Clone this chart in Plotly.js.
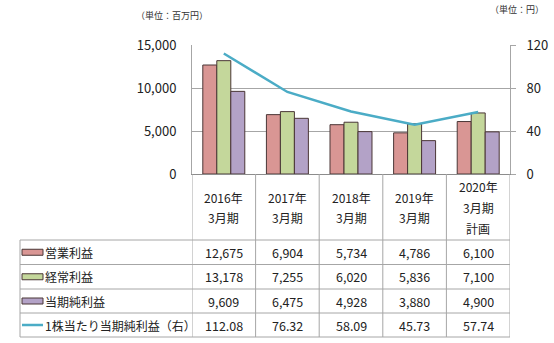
<!DOCTYPE html>
<html>
<head>
<meta charset="utf-8">
<script src="https://cdn.plot.ly/plotly-3.0.1.min.js"></script>
<style>html,body{margin:0;padding:0;background:#fff;}#chart{width:554px;height:343px;}</style>
</head>
<body>
<div id="chart"></div>
<script>
// ---- data ----
const headerLines = [['2016年','3月期'],['2017年','3月期'],['2018年','3月期'],['2019年','3月期'],['2020年','3月期','計画']];
const categories = headerLines.map(l => l.join(''));
const seriesNames = ['営業利益','経常利益','当期純利益','1株当たり当期純利益（右）'];
const operatingProfit = [12675, 6904, 5734, 4786, 6100];
const ordinaryProfit  = [13178, 7255, 6020, 5836, 7100];
const netIncome       = [9609, 6475, 4928, 3880, 4900];
const eps             = [112.08, 76.32, 58.09, 45.73, 57.74];
const leftTicks  = [0, 5000, 10000, 15000];
const leftTickText = ['0','5,000','10,000','15,000'];
const rightTicks = [0, 40, 80, 120];
const unitLeft = '（単位：百万円）';
const unitRight = '（単位：円）';

// ---- style ----
const FONT = '"Noto Sans CJK JP", "Noto Sans", sans-serif';
const colors = ['#D99694', '#C4D79B', '#B3A2C7', '#4BACC6'];
const edge = '#4a3636';
const gridC = '#A6A6A6';
const tableC = '#A6A6A6';

const W = 554, H = 343;
const M = {l: 192, r: 44, t: 45, b: 169};
const plotH = H - M.t - M.b, plotW = W - M.l - M.r;
const zeroY = H - M.b;
const py = Y => (zeroY - Y) / plotH;
const px = X => (X - M.l) / plotW;

const barSeries = [operatingProfit, ordinaryProfit, netIncome];
const traces = barSeries.map((vals, i) => ({
  type: 'bar', x: categories, y: vals, name: seriesNames[i],
  marker: {color: colors[i], line: {color: edge, width: 1}},
  xaxis: 'x', yaxis: 'y', hoverinfo: 'none'
}));
traces.push({
  type: 'scatter', mode: 'lines', x: categories, y: eps, name: seriesNames[3],
  line: {color: colors[3], width: 2.5}, xaxis: 'x', yaxis: 'y2', hoverinfo: 'none'
});

// table geometry (pixel rows)
const rowEdges = [240, 264.5, 289, 313, 337];
const tableLeft = 20;
const shapes = [];
const annotations = [];
// horizontal lines
rowEdges.forEach(Y => shapes.push({type:'line', xref:'paper', yref:'paper', x0:px(tableLeft), x1:1, y0:py(Y), y1:py(Y), line:{color:tableC, width:1}}));
// left outer
shapes.push({type:'line', xref:'paper', yref:'paper', x0:px(tableLeft), x1:px(tableLeft), y0:py(rowEdges[0]), y1:py(337), line:{color:tableC, width:1}});
// column lines (category boundaries through x scale)
for (let k = 0; k <= categories.length; k++) {
  const xv = k - 0.5;
  shapes.push({type:'line', xref:'x', yref:'paper', x0:xv, x1:xv, y0:0, y1:py(337), line:{color:tableC, width:1}});
}
// header text
headerLines.forEach((lines, i) => {
  const n = lines.length;
  const centerY = 207;
  const step = n === 3 ? 21 : 20;
  lines.forEach((t, j) => {
    const Y = centerY + (j - (n - 1) / 2) * step;
    annotations.push({xref:'x', yref:'paper', x:categories[i], y:py(Y), text:t, showarrow:false,
      font:{family:FONT, size:12, color:'#222'}, xanchor:'center', yanchor:'middle'});
  });
});
// value rows
const rowVals = [
  operatingProfit.map(v => v.toLocaleString('en-US')),
  ordinaryProfit.map(v => v.toLocaleString('en-US')),
  netIncome.map(v => v.toLocaleString('en-US')),
  eps.map(v => v.toFixed(2))
];
rowVals.forEach((vals, r) => {
  const cy = (rowEdges[r] + rowEdges[r + 1]) / 2;
  vals.forEach((t, i) => annotations.push({xref:'x', yref:'paper', x:categories[i], y:py(cy), text:t, showarrow:false,
    font:{family:FONT, size:12.5, color:'#222'}, xanchor:'center', yanchor:'middle'}));
  // row label
  annotations.push({xref:'paper', yref:'paper', x:px(43), y:py(cy), text:seriesNames[r], showarrow:false,
    font:{family:FONT, size:12, color:'#222'}, xanchor:'left', yanchor:'middle'});
  // key
  if (r < 3) {
    shapes.push({type:'rect', xref:'paper', yref:'paper', x0:px(22), x1:px(43), y0:py(cy - 3), y1:py(cy + 3),
      fillcolor:colors[r], line:{color:edge, width:1}});
  } else {
    shapes.push({type:'line', xref:'paper', yref:'paper', x0:px(22), x1:px(43), y0:py(cy), y1:py(cy),
      line:{color:colors[3], width:2.5}});
  }
});
// unit labels
annotations.push({xref:'paper', yref:'paper', x:px(134), y:py(15), text:unitLeft, showarrow:false,
  font:{family:FONT, size:9, color:'#333'}, xanchor:'left', yanchor:'middle'});
annotations.push({xref:'paper', yref:'paper', x:px(546), y:py(10), text:unitRight, showarrow:false,
  font:{family:FONT, size:9, color:'#333'}, xanchor:'right', yanchor:'middle'});

const layout = {
  width: W, height: H, margin: M,
  paper_bgcolor: '#fff', plot_bgcolor: '#fff',
  showlegend: false, barmode: 'group', bargap: 0.34, bargroupgap: 0,
  font: {family: FONT, size: 13, color: '#222'},
  xaxis: {type:'category', showticklabels:false, ticks:'', showgrid:false, zeroline:false,
    showline:true, linecolor:'#8c8c8c', linewidth:1, range:[-0.5, 4.5], fixedrange:true},
  yaxis: {range:[0, 15000], tickvals:leftTicks, ticktext:leftTickText, showgrid:true, gridcolor:gridC, gridwidth:1,
    zeroline:false, showline:true, linecolor:gridC, linewidth:1, ticks:'', ticklabelstandoff:12,
    tickfont:{family:FONT, size:13, color:'#222'}},
  yaxis2: {overlaying:'y', side:'right', range:[0, 120], tickvals:rightTicks, showgrid:false, zeroline:false,
    showline:true, linecolor:gridC, linewidth:1, ticks:'outside', ticklen:5, tickcolor:gridC, ticklabelstandoff:8,
    tickfont:{family:FONT, size:13, color:'#222'}},
  shapes: shapes,
  annotations: annotations
};
Plotly.newPlot('chart', traces, layout, {staticPlot:true, displayModeBar:false});
</script>
</body>
</html>
